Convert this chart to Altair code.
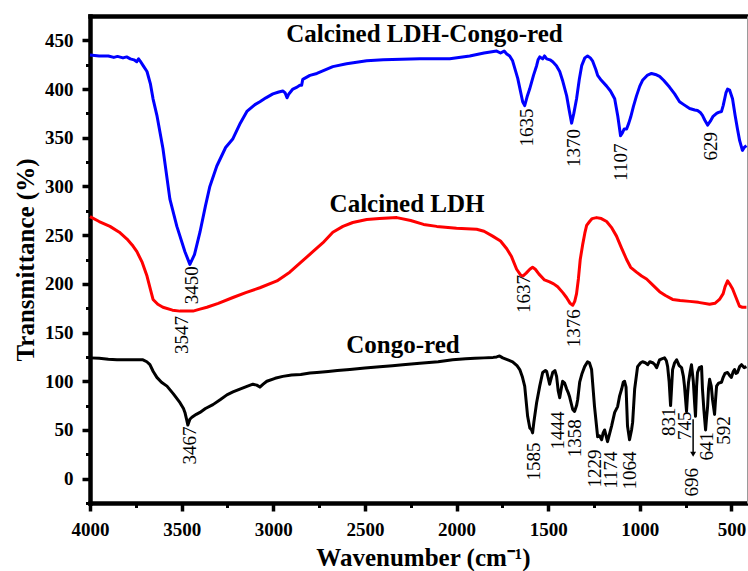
import altair as alt
import pandas as pd

# ---------------- data ----------------
blue_wn = [4000, 3950, 3900, 3870, 3850, 3820, 3800, 3780, 3760, 3745, 3735, 3727, 3710, 3689,
           3670, 3656, 3635, 3602, 3564, 3526, 3482, 3455, 3430, 3400, 3370, 3346, 3308, 3260,
           3220, 3180, 3144, 3100, 3073, 3040, 3002, 2970, 2948, 2935, 2925, 2915, 2893, 2870,
           2855, 2845, 2839, 2800, 2762, 2675, 2600, 2490, 2400, 2300, 2200, 2100, 2037, 1928,
           1850, 1781, 1760, 1740, 1726, 1710, 1694, 1666, 1639, 1628, 1615, 1601, 1580, 1563,
           1555, 1546, 1530, 1520, 1508, 1490, 1475, 1455, 1437, 1420, 1399, 1385, 1372, 1360,
           1345, 1330, 1317, 1300, 1285, 1270, 1258, 1240, 1230, 1210, 1181, 1160, 1137, 1120,
           1105, 1095, 1085, 1072, 1060, 1050, 1035, 1018, 1000, 985, 960, 936, 915, 892, 870,
           838, 810, 783, 760, 728, 700, 685, 670, 658, 645, 630, 615, 600, 581, 570, 554, 545,
           530, 521, 510, 494, 480, 467, 455, 440, 430, 418]
blue_t = [435, 434, 434, 432.5, 433.5, 432, 433, 431, 430, 428, 431, 429, 424, 418,
          405, 390, 373, 339, 287, 259, 233, 220, 230, 253, 280, 300, 321, 340,
          349, 365, 377, 384, 387, 391, 395, 397, 398, 396, 391, 395, 400, 402,
          404, 404, 410, 414, 416, 423, 426, 429, 430, 430.5, 431, 431, 431, 434,
          437, 439, 437, 439, 436, 434, 429, 411, 387, 383, 392, 400, 414, 424,
          430, 433, 431, 434, 431, 430, 428, 424, 418, 408, 393, 378, 365, 375,
          390, 410, 424, 432, 434, 432, 429, 420, 414, 409, 403, 398, 390, 372,
          352, 355, 359, 359, 365, 371, 382, 393, 403, 409, 414, 416, 415, 413, 409,
          402, 395, 387, 384, 380, 378.5, 378, 376, 373, 368, 363, 367, 372, 375, 376, 377, 383,
          396, 400, 399, 390, 373, 359, 347, 337, 340, 342]

red_wn = [4000, 3950, 3891, 3840, 3798, 3770, 3744, 3715, 3689, 3670, 3656, 3630, 3602, 3550,
          3509, 3438, 3400, 3362, 3300, 3220, 3150, 3073, 2980, 2910, 2850, 2784, 2730, 2675,
          2620, 2566, 2490, 2420, 2326, 2250, 2180, 2108, 2000, 1890, 1850, 1803, 1760, 1726,
          1700, 1672, 1650, 1638, 1620, 1600, 1585, 1570, 1550, 1520, 1492, 1470, 1448, 1420,
          1400, 1380, 1366, 1355, 1345, 1335, 1325, 1312, 1300, 1290, 1274, 1260, 1236, 1210,
          1181, 1155, 1127, 1100, 1072, 1050, 1018, 990, 963, 930, 892, 860, 821, 780, 728,
          680, 619, 590, 565, 545, 535, 521, 510, 494, 475, 456, 440, 418]
red_t = [269, 264, 259, 253, 246, 240, 233, 222, 208, 194, 184, 179, 176, 173,
         172, 172, 174, 176, 180, 186, 191, 196, 203, 212, 222, 233, 242, 253,
         259, 263, 266, 267, 268, 265, 261, 259, 257, 256, 254, 249, 244, 236,
         228, 215, 209, 208, 211, 215, 217, 215, 210, 204, 202, 200, 197, 191,
         186, 180, 178, 182, 190, 205, 225, 240, 252, 260, 264, 267, 268, 267,
         264, 258, 249, 237, 225, 217, 212, 208, 205, 199, 192, 188, 184, 183, 182,
         181, 179, 180, 184, 190, 197, 203, 200, 195, 186, 177, 176, 176]

black_wn = [4000, 3950, 3900, 3853, 3800, 3750, 3711, 3690, 3673, 3655, 3635, 3610, 3580, 3545,
            3509, 3490, 3482, 3472, 3466, 3455, 3444, 3420, 3400, 3370, 3329, 3290, 3253, 3220,
            3182, 3140, 3111, 3090, 3073, 3055, 3035, 2990, 2948, 2900, 2850, 2800, 2762, 2700,
            2650, 2582, 2500, 2419, 2350, 2293, 2200, 2100, 2021, 1950, 1900, 1850, 1800, 1781,
            1765, 1748, 1720, 1694, 1670, 1655, 1640, 1628, 1612, 1600, 1590, 1585, 1578, 1563,
            1546, 1530, 1515, 1508, 1492, 1475, 1463, 1454, 1445, 1437, 1427, 1421, 1410, 1399,
            1390, 1383, 1366, 1356, 1345, 1339, 1328, 1315, 1301, 1285, 1275, 1263, 1247, 1230,
            1220, 1208, 1200, 1192, 1176, 1165, 1154, 1137, 1121, 1110, 1099, 1090, 1083, 1075,
            1067, 1056, 1045, 1039, 1028, 1012, 995, 985, 970, 957, 945, 930, 918, 908, 892,
            880, 865, 855, 848, 840, 832, 826, 821, 810, 799, 785, 772, 762, 756, 745, 740,
            734, 725, 718, 708, 701, 696, 690, 685, 675, 663, 658, 650, 641, 636, 630, 625,
            619, 610, 603, 597, 592, 587, 581, 570, 554, 545, 535, 521, 510, 500, 490, 483,
            475, 467, 455, 445, 430, 418]
black_t = [124, 123.5, 122.5, 122, 122, 122, 122, 120, 117, 110, 104, 99, 95, 87,
           78, 72, 68, 60, 55, 61, 63, 66, 68, 72, 76, 81, 86, 89,
           92, 95, 97, 96, 94, 97, 100, 103, 105, 106.5, 107, 108.5, 109, 110,
           111, 112, 113.5, 115, 116, 117, 118.5, 120, 122, 123, 123.5, 124, 124.5, 125,
           126, 124, 122, 120, 116, 112, 104, 95, 64, 52, 50, 47, 58, 78,
           95, 109, 111, 110, 97, 109, 111, 105, 90, 83, 94, 100, 98, 92,
           88, 84, 71, 69, 75, 81, 99, 108, 115, 120, 119, 112, 74, 43,
           44, 40, 47, 50, 38, 46, 54, 68, 74, 85, 92, 99, 100, 94,
           54, 40, 50, 58, 92, 115, 119, 120, 119, 117, 120, 119, 117, 114, 122,
           123, 124, 121, 115, 100, 75, 95, 112, 119, 122, 116, 114, 105, 95, 69, 85,
           99, 110, 117, 100, 78, 64, 95, 109, 114, 115, 92, 70, 50, 62, 74, 92,
           102, 95, 81, 73, 66, 80, 95, 98, 99, 104, 108, 109, 106, 104, 110, 112,
           108, 109, 115, 117, 114, 115]

series_names = ["Calcined LDH-Congo-red", "Calcined LDH", "Congo-red"]
series_colors = ["#0000FF", "#FF0000", "#000000"]
series_label_wn = [2175, 2270, 2292]
series_label_t = [448.5, 273.5, 129.5]

peak_text = ["3450", "1635", "1370", "1107", "629",
             "3547", "1637", "1376",
             "3467", "1585", "1444", "1358", "1229", "1174", "1064",
             "831", "745", "696", "641", "592"]
peak_wn = [3445, 1616, 1357, 1101, 611,
           3499, 1630, 1357,
           3455, 1575, 1445, 1352, 1243, 1156, 1053,
           840, 753, 715, 633, 540]
peak_top = [218, 380, 359, 344, 356,
            167, 209, 174,
            53.5, 37, 69, 61, 30, 28, 28,
            73, 69, 11, 48, 64]

arrow_wn = [709]
arrow_from = [61]
arrow_to = [25]

x_major = [4000, 3500, 3000, 2500, 2000, 1500, 1000, 500]
x_minor = [3750, 3250, 2750, 2250, 1750, 1250, 750]
y_major = [0, 50, 100, 150, 200, 250, 300, 350, 400, 450]
y_minor = [-25, 25, 75, 125, 175, 225, 275, 325, 375, 425]

# ---------------- tables ----------------
rows = []
for name, wn, t in zip(series_names, [blue_wn, red_wn, black_wn], [blue_t, red_t, black_t]):
    for i, (w, v) in enumerate(zip(wn, t)):
        rows.append({"series": name, "wn": w, "t": v, "idx": i})
curves = pd.DataFrame(rows)

peaks = pd.DataFrame({"label": peak_text, "wn": peak_wn, "t": peak_top})
slabels = pd.DataFrame({"label": series_names, "wn": series_label_wn, "t": series_label_t})
arrow = pd.DataFrame({"wn": arrow_wn, "t": arrow_from, "t2": arrow_to})

FONT = "Liberation Serif"
W, H = 657, 487

xscale = alt.Scale(domain=[415, 4000], reverse=True, nice=False, zero=False)
yscale = alt.Scale(domain=[-25, 475], nice=False, zero=False)

common = dict(domainColor="black", tickColor="black", labelColor="black", titleColor="black",
              grid=False, labelFont=FONT, titleFont=FONT)

x_axis_major = alt.Axis(orient="bottom", values=x_major, format="d", title="Wavenumber (cm⁻¹)",
                        domainWidth=4.5, domainCap="square", tickWidth=3.5, tickSize=8,
                        labelFontSize=19, labelFontWeight="bold", labelPadding=9,
                        titleFontSize=25, titleFontWeight="bold", titleX=333, titleY=62,
                        titleBaseline="alphabetic", titleAlign="center", labelFlush=False,
                        **common)
y_axis_major = alt.Axis(orient="left", values=y_major, format="d", title="Transmittance (%)",
                        domainWidth=4.5, domainCap="square", tickWidth=3.5, tickSize=8,
                        labelFontSize=19, labelFontWeight="bold", labelPadding=9,
                        titleFontSize=25, titleFontWeight="bold", titleX=-57, titleY=H / 2,
                        titleAngle=270, titleBaseline="alphabetic", titleAlign="center",
                        labelFlush=False, **common)
x_axis_minor = alt.Axis(orient="bottom", values=x_minor, title="", labels=False, domain=False,
                        tickWidth=3, tickSize=4.5, **common)
y_axis_minor = alt.Axis(orient="left", values=y_minor, title="", labels=False, domain=False,
                        tickWidth=3, tickSize=4.5, **common)
x_axis_top = alt.Axis(orient="top", title="", labels=False, ticks=False, domainWidth=4.5,
                      domainCap="square", **common)
y_axis_right = alt.Axis(orient="right", title="", labels=False, ticks=False, domainWidth=1,
                        grid=False, domainColor="#9a9a9a")

lines = alt.Chart(curves).mark_line(strokeWidth=3, strokeJoin="round").encode(
    x=alt.X("wn:Q", scale=xscale, axis=x_axis_major),
    y=alt.Y("t:Q", scale=yscale, axis=y_axis_major),
    color=alt.Color("series:N", scale=alt.Scale(domain=series_names, range=series_colors), legend=None),
    order=alt.Order("idx:Q"),
)

peak_layer = alt.Chart(peaks).mark_text(angle=270, align="right", baseline="middle",
                                        font=FONT, fontSize=19, color="black").encode(
    x=alt.X("wn:Q", scale=xscale, axis=x_axis_minor),
    y=alt.Y("t:Q", scale=yscale, axis=y_axis_minor),
    text="label:N",
)

series_layer = alt.Chart(slabels).mark_text(align="center", baseline="alphabetic",
                                            font=FONT, fontSize=25, fontWeight="bold",
                                            color="black").encode(
    x=alt.X("wn:Q", scale=xscale, axis=x_axis_top),
    y=alt.Y("t:Q", scale=yscale, axis=y_axis_right),
    text="label:N",
)

arrow_line = alt.Chart(arrow).mark_rule(color="black", strokeWidth=1.5).encode(
    x=alt.X("wn:Q", scale=xscale, axis=None),
    y=alt.Y("t:Q", scale=yscale, axis=None),
    y2="t2:Q",
)
arrow_head = alt.Chart(arrow).mark_point(shape="triangle-down", filled=True, color="black",
                                         size=35, opacity=1).encode(
    x=alt.X("wn:Q", scale=xscale, axis=None),
    y=alt.Y("t2:Q", scale=yscale, axis=None),
)

chart = alt.layer(lines, peak_layer, series_layer, arrow_line, arrow_head).resolve_axis(
    x="independent", y="independent"
).properties(
    width=W, height=H,
    autosize=alt.AutoSizeParams(type="none"),
    padding={"left": 90, "top": 16, "right": 1, "bottom": 68},
    background="white",
).configure_view(stroke="transparent")

chart.save("out.html", embed_options={"renderer": "svg", "actions": False})
